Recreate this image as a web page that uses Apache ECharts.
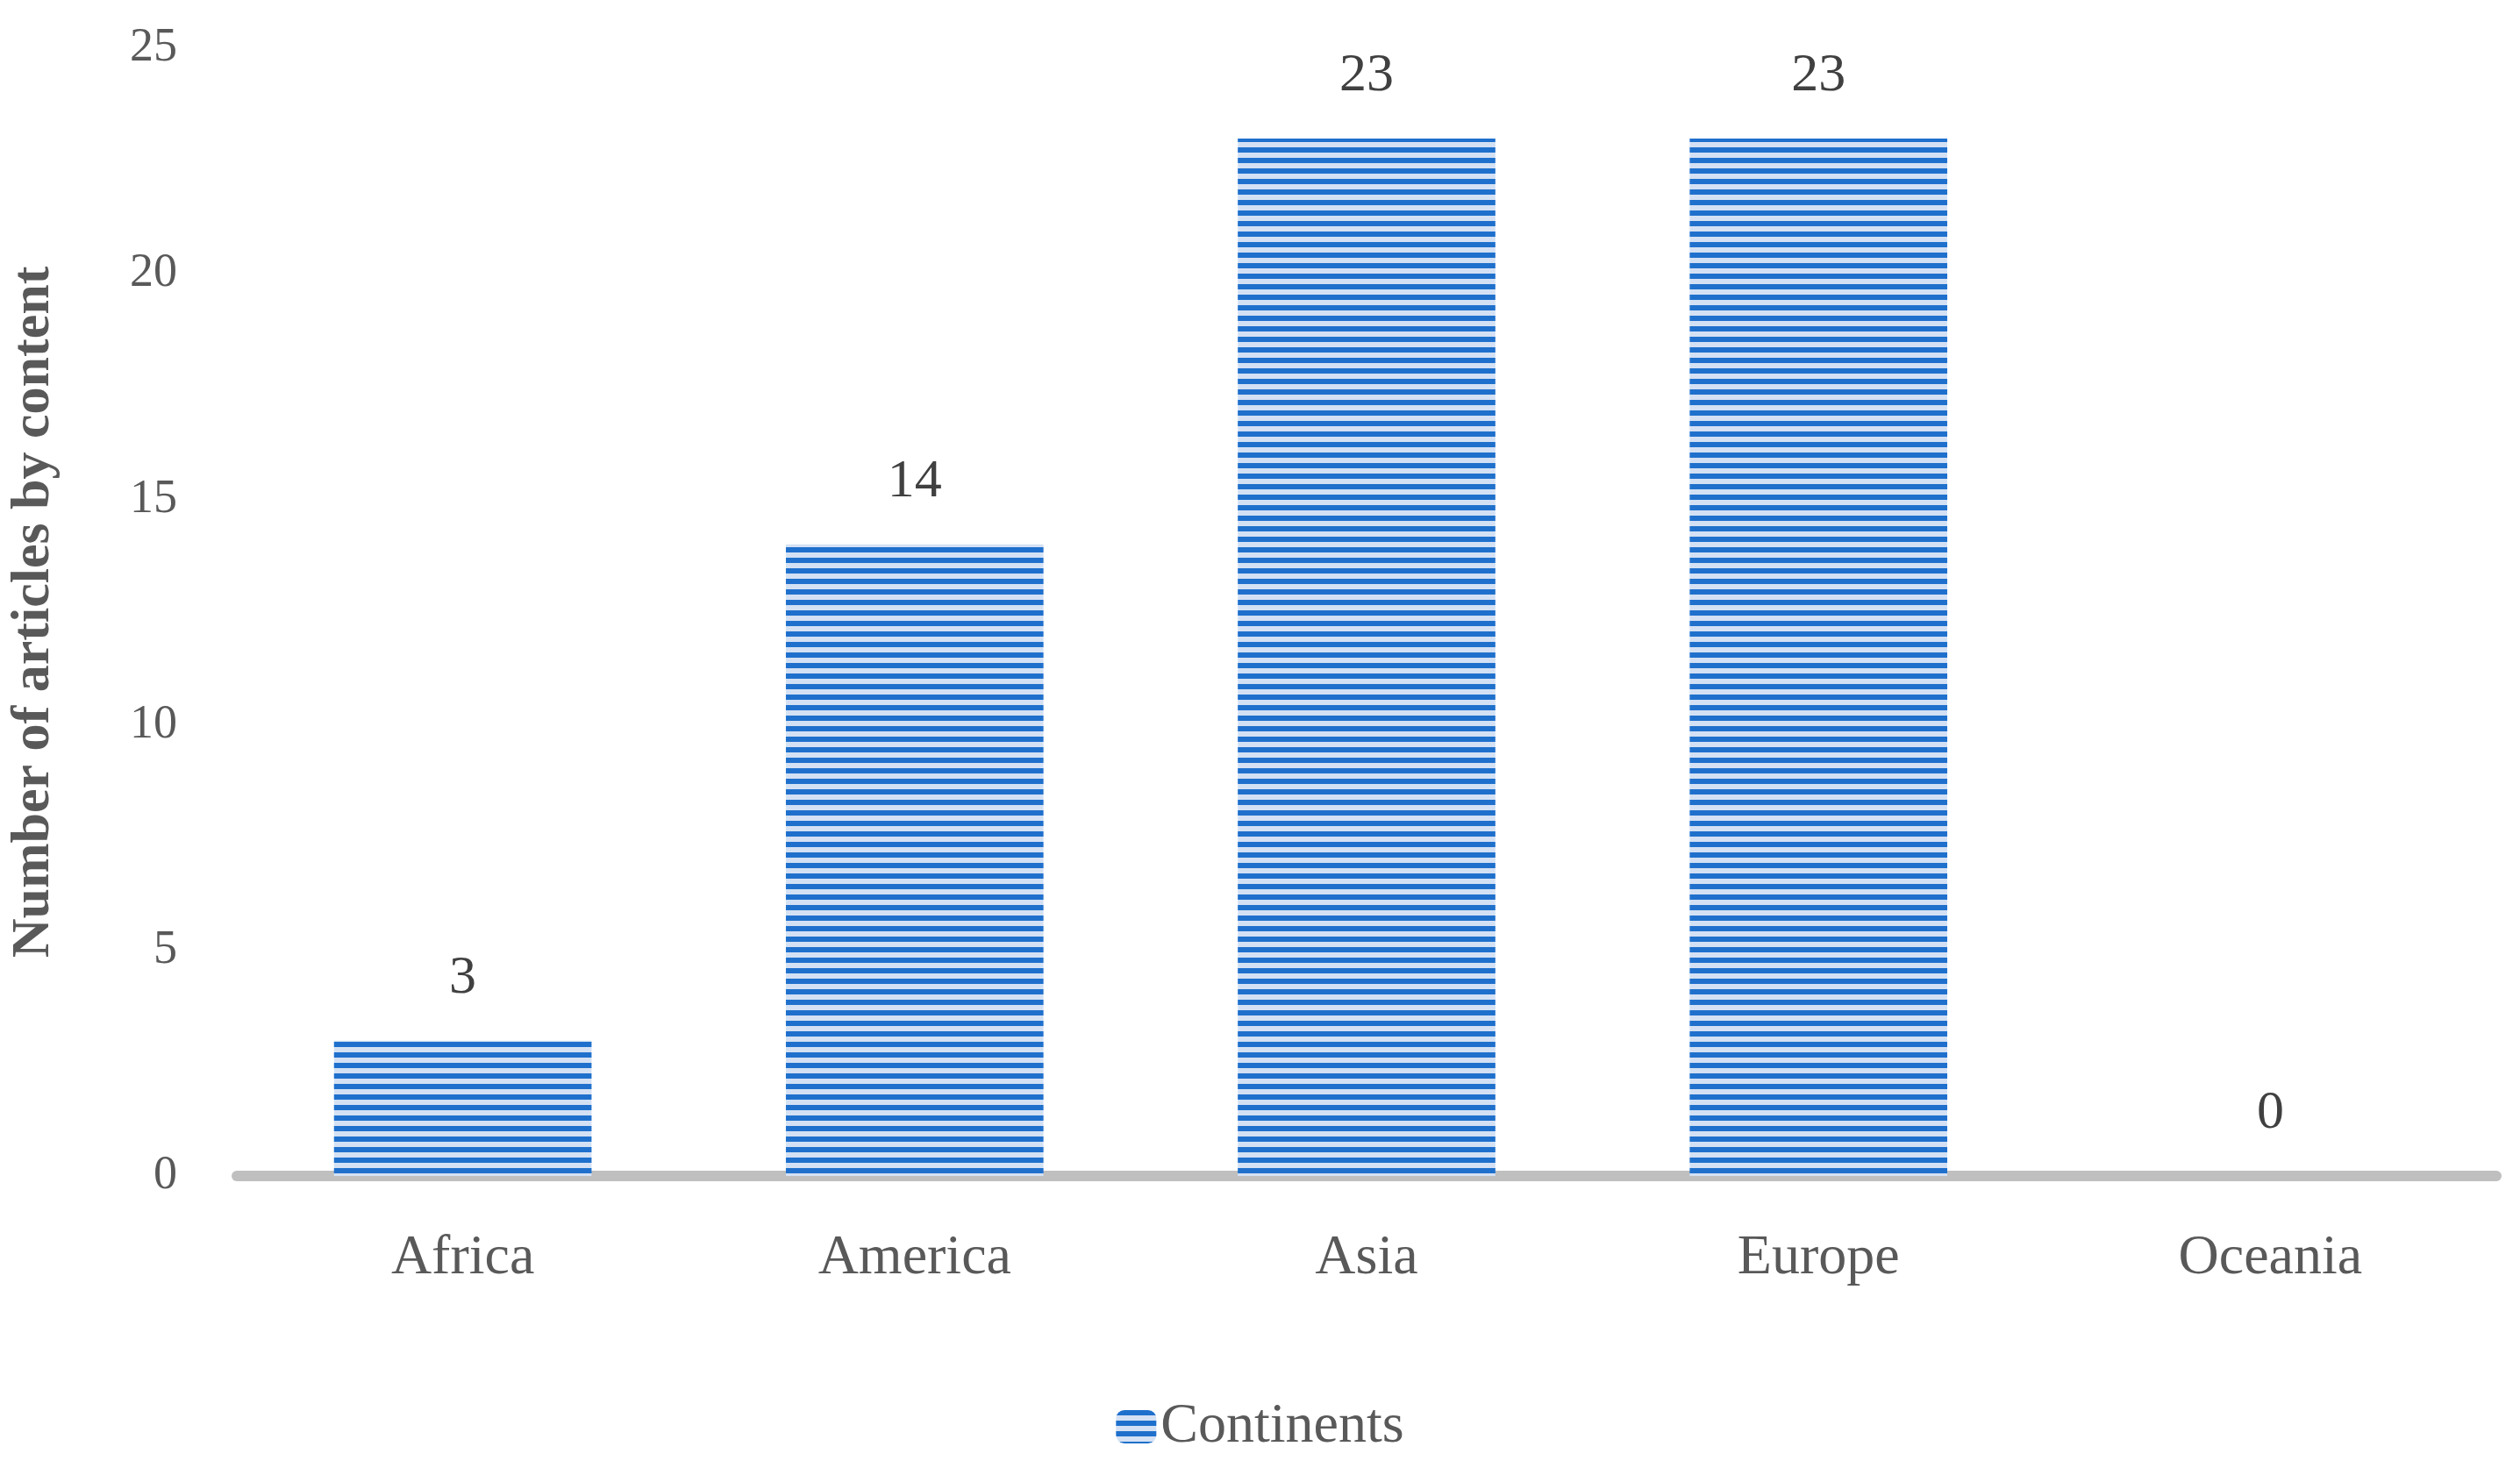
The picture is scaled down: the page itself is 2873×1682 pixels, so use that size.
<!DOCTYPE html><html><head><meta charset="utf-8"><script src="https://cdn.jsdelivr.net/npm/echarts@6/dist/echarts.min.js"></script>
<style>html,body{margin:0;padding:0;background:#fff}#c{width:2873px;height:1682px}</style></head><body><div id="c"></div><script>
const categories=['Africa','America','Asia','Europe','Oceania'];
const values=[3,14,23,23,0];
const seriesName='Continents';
const yTicks=[0,5,10,15,20,25];
const cv=document.createElement('canvas');cv.width=12;cv.height=12;
const g=cv.getContext('2d');g.fillStyle='#D4E1F4';g.fillRect(0,0,12,12);g.fillStyle='#1F70CC';g.fillRect(0,0,12,6);
const pat={image:cv,repeat:'repeat'};
const font='Liberation Serif';
const ch=echarts.init(document.getElementById('c'));
ch.setOption({animation:false,textStyle:{fontFamily:font},
grid:{left:267,right:27,top:55,bottom:1682-1341},
legend:{bottom:18,left:'center',itemWidth:46,itemHeight:38,textStyle:{fontSize:64,color:'#595959',fontFamily:font},data:[{name:seriesName,itemStyle:{color:pat}}]},
xAxis:{type:'category',data:categories,axisTick:{show:false},axisLine:{lineStyle:{color:'#BFBFBF',width:12}},axisLabel:{fontSize:64,color:'#595959',margin:62}},
yAxis:{type:'value',min:0,max:25,interval:5,splitLine:{show:false},axisLine:{show:false},axisLabel:{fontSize:54,color:'#595959',margin:68},
name:'Number of articles by content',nameLocation:'middle',nameGap:200,nameTextStyle:{fontSize:62,fontWeight:'bold',color:'#595959'}},
series:[{name:seriesName,type:'bar',data:values,barWidth:'57%',itemStyle:{color:pat},label:{show:true,position:'top',distance:40,fontSize:62,color:'#404040'}}]});
</script></body></html>
